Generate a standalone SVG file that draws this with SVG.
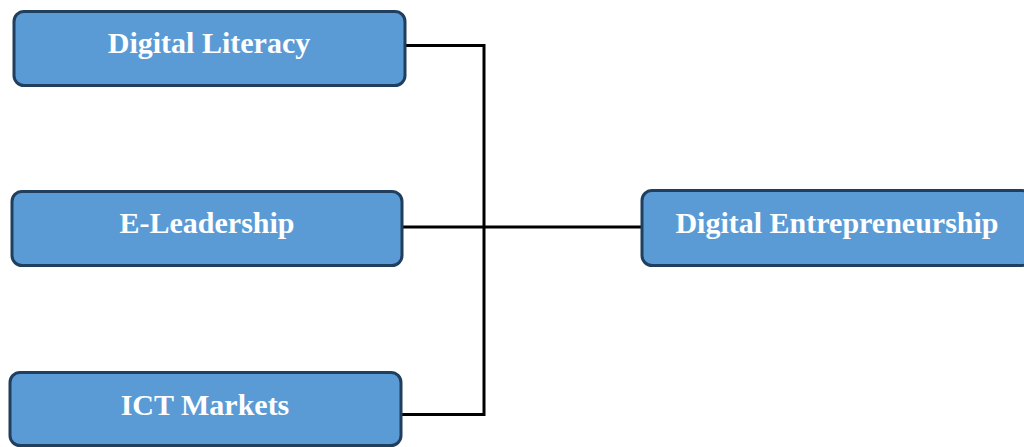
<svg xmlns="http://www.w3.org/2000/svg" width="1024" height="447" viewBox="0 0 1024 447">
<style>
.box{fill:#5B9BD5;stroke:#203F5E;stroke-width:3}
.lbl{font-family:"Liberation Serif","Times New Roman",serif;font-weight:bold;font-size:30px;fill:#ffffff;text-anchor:middle}
.con{fill:none;stroke:#000;stroke-width:3}
</style>
<rect width="1024" height="447" fill="#fff"/>
<g id="connectors">
<polyline class="con" points="405,45.5 484,45.5 484,414.5 401,414.5"/>
<line class="con" x1="402" y1="227" x2="642" y2="227"/>
</g>
<g id="n1"><rect class="box" x="14" y="11.5" width="391" height="74" rx="10"/><text class="lbl" x="209" y="53">Digital Literacy</text></g>
<g id="n2"><rect class="box" x="12" y="191.5" width="390" height="74" rx="10"/><text class="lbl" x="207" y="233">E-Leadership</text></g>
<g id="n3"><rect class="box" x="10" y="372.5" width="391" height="73" rx="10"/><text class="lbl" x="205" y="415">ICT Markets</text></g>
<g id="n4"><rect class="box" x="642" y="190.5" width="390" height="75" rx="10"/><text class="lbl" x="837" y="233">Digital Entrepreneurship</text></g>
</svg>
